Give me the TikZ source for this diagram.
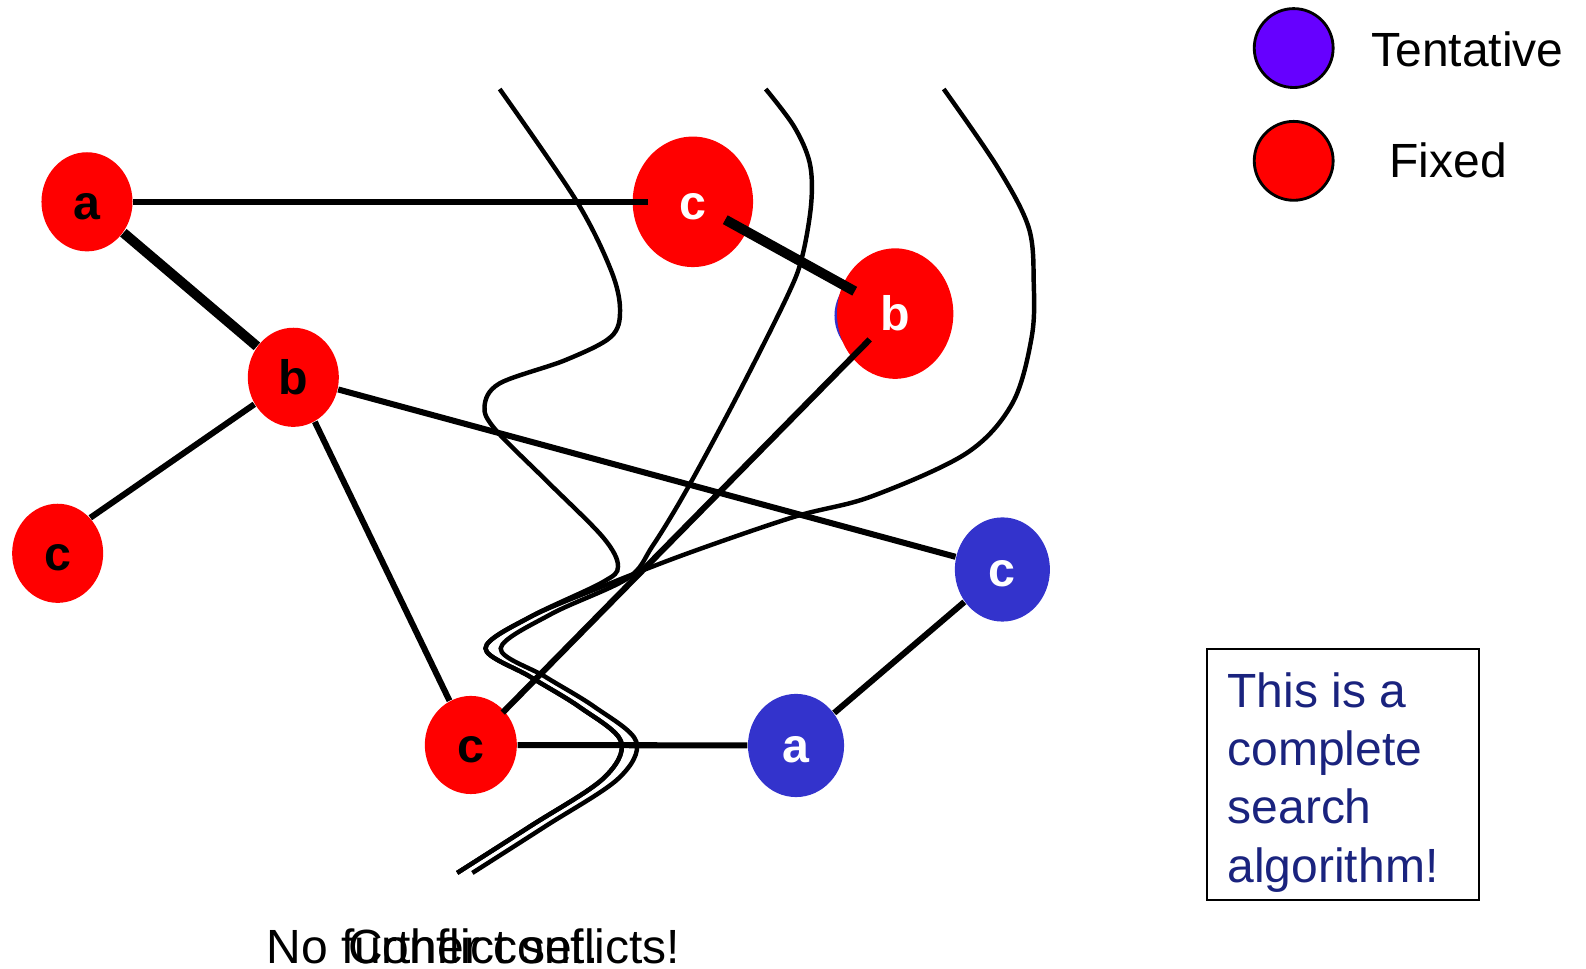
\documentclass[tikz,border=0pt]{standalone}
\usepackage{fontspec}
\setmainfont{Liberation Sans}
\usetikzlibrary{shapes.geometric,calc}
\definecolor{fixedred}{RGB}{255,0,0}
\definecolor{tentblue}{RGB}{51,51,204}
\definecolor{keyblue}{RGB}{102,0,255}
\definecolor{notetext}{RGB}{26,35,126}
\tikzset{
  var/.style={ellipse, inner sep=0pt, text height=0.34cm, text depth=0pt,
    font=\fontsize{13.6}{16}\selectfont\bfseries},
  fixed/.style={var, fill=fixedred},
  tentative/.style={var, fill=tentblue, text=white},
  arc/.style={line width=1.7pt},
  heavyarc/.style={line width=2.8pt},
  cut/.style={line width=1.25pt},
  key/.style={circle, draw=black, line width=0.8pt, minimum size=0.78cm, inner sep=0pt},
  txt/.style={font=\fontsize{13.5}{16.4}\selectfont, inner sep=0pt}
}
\begin{document}
\begin{tikzpicture}[x=1cm,y=-1cm]
\useasboundingbox (0,0) rectangle (15.68,9.57);
% variables
\node[fixed, minimum width=0.90cm, minimum height=0.98cm] (a1) at (0.86,1.995) {a};
\node[fixed, minimum width=0.90cm, minimum height=0.98cm] (b1) at (2.90,3.73) {b};
\node[fixed, minimum width=0.90cm, minimum height=0.98cm] (c1) at (0.57,5.47) {c};
\node[fixed, minimum width=0.91cm, minimum height=0.97cm] (c4) at (4.655,7.365) {c};
\node[fixed, text=white, minimum width=1.19cm, minimum height=1.29cm] (c2) at (6.85,1.995) {c};
\fill[tentblue] (8.815,3.12) ellipse [x radius=0.565, y radius=0.50];
\node[fixed, text=white, minimum width=1.15cm, minimum height=1.29cm] (b2) at (8.85,3.10) {b};
\node[tentative, minimum width=0.94cm, minimum height=1.03cm] (c3) at (9.91,5.63) {c};
\node[tentative, minimum width=0.95cm, minimum height=1.02cm] (a2) at (7.87,7.37) {a};
% constraints
\draw[heavyarc] (a1) -- (b1);
\draw[arc] (a1) -- ($(c2.west)+(0.155,0)$);
\draw[heavyarc] ($(c2)!0.16!(b2)$) -- ($(c2)!0.8!(b2)$);
\draw[arc] ($(b2)!0.06!(c4)$) -- ($(b2)!0.925!(c4)$);
\draw[arc] (b1) -- (c1.north east);
\draw[arc] (b1) -- (c4);
\draw[arc] (b1) -- (c3);
\draw[arc] (c4) -- (a2);
\draw[arc] (a2) -- (c3);
% search cuts
\draw[cut] plot[smooth, tension=0.55] coordinates {(4.94,0.88) (5.695,1.98) (6.04,2.67) (6.13,3.065) (6.04,3.33) (5.59,3.56) (4.94,3.79) (4.79,4.02) (4.90,4.25) (5.395,4.745) (5.96,5.31) (6.11,5.60) (5.95,5.76) (5.24,6.10) (4.80,6.41) (5.24,6.69) (5.73,6.99) (6.14,7.33) (5.96,7.70) (5.24,8.17) (4.52,8.63)};
\draw[cut] plot[smooth, tension=0.55] coordinates {(7.57,0.88) (7.85,1.25) (8.005,1.61) (8.02,2.01) (7.93,2.54) (7.78,2.935) (7.285,3.92) (6.79,4.84) (6.45,5.40) (6.20,5.72) (5.45,6.07) (4.95,6.41) (5.39,6.69) (5.88,6.99) (6.29,7.33) (6.11,7.70) (5.39,8.17) (4.67,8.63)};
\draw[cut] plot[smooth, tension=0.55] coordinates {(9.33,0.88) (9.86,1.65) (10.17,2.25) (10.22,2.80) (10.20,3.33) (10.01,3.985) (9.556,4.48) (8.61,4.91) (7.85,5.11) (6.80,5.47) (6.00,5.78) (5.24,6.10) (4.80,6.41) (5.24,6.69) (5.73,6.99) (6.14,7.33) (5.96,7.70) (5.24,8.17) (4.52,8.63)};
% legend
\node[key, fill=keyblue] (tentkey) at (12.79,0.475) {};
\node[key, fill=fixedred] (fixkey) at (12.79,1.59) {};
\node[txt, anchor=base west] (tentlabel) at (13.55,0.655) {Tentative};
\node[txt, anchor=base west] (fixlabel) at (13.73,1.755) {Fixed};
% note
\draw[line width=0.6pt] (11.93,6.42) rectangle (14.62,8.90);
\node[txt, text=notetext, align=left, anchor=north west] (note) at (12.13,6.64) {This is a\\complete\\search\\algorithm!};
% captions
\node[txt, anchor=base] (nomore) at (4.68,9.53) {No further conflicts!};
\node[txt, anchor=base] (confset) at (nomore.base) {Conflict set.};
\end{tikzpicture}
\end{document}
